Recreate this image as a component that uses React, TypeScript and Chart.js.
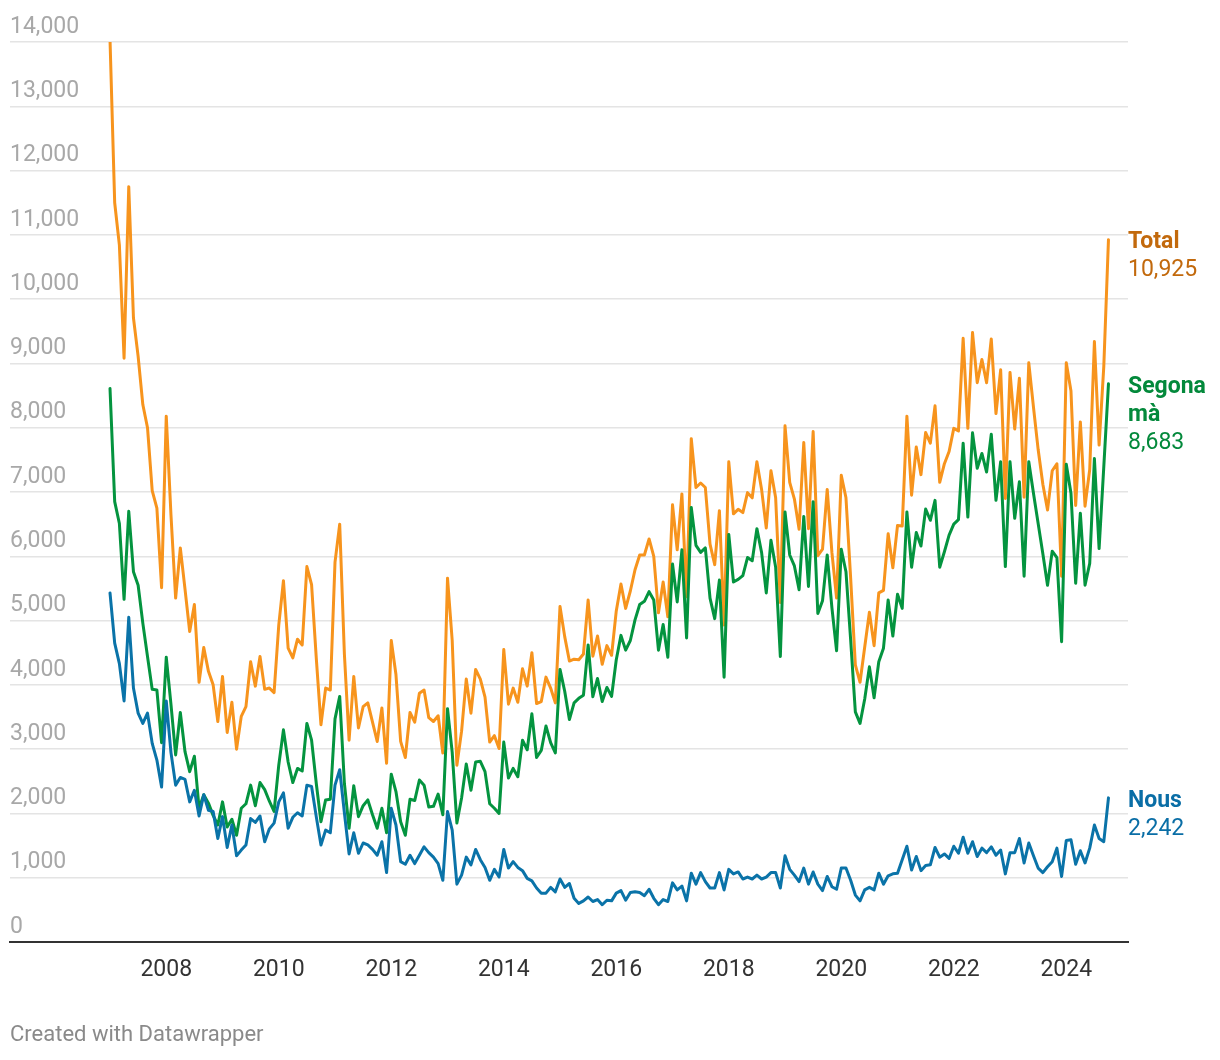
import React, { useEffect, useRef } from "react";
import { Chart, registerables } from "chart.js";

Chart.register(...registerables);

// Monthly series, January 2007 – October 2024
const startYear = 2007;

const nous: number[] = [
  5430, 4650, 4330, 3750, 5050, 3950, 3560, 3400, 3560, 3090, 2830, 2410,
  3750, 2950, 2440, 2560, 2530, 2180, 2360, 1960, 2290, 2050, 2030, 1610,
  1950, 1470, 1820, 1340, 1430, 1510, 1920, 1860, 1960, 1560, 1760, 1850,
  2180, 2320, 1770, 1940, 2010, 1960, 2440, 2420, 1950, 1510, 1740, 1700,
  2440, 2680, 2010, 1370, 1700, 1380, 1540, 1510, 1440, 1350, 1560, 1080,
  2080, 1820, 1250, 1210, 1350, 1220, 1350, 1480, 1390, 1320, 1220, 960,
  2030, 1740, 900, 1040, 1320, 1200, 1440, 1280, 1160, 960, 1130, 1010,
  1440, 1150, 1250, 1160, 1110, 990, 950, 840, 760, 760, 850, 780,
  980, 850, 910, 680, 600, 640, 700, 630, 660, 580, 650, 640,
  760, 800, 650, 770, 780, 770, 720, 820, 680, 580, 660, 630,
  920, 810, 870, 640, 1070, 900, 1080, 940, 840, 840, 1080, 810,
  1130, 1060, 1090, 980, 1010, 980, 1040, 980, 1010, 1080, 1080, 840,
  1340, 1130, 1040, 940, 1150, 900, 1090, 900, 800, 1020, 860, 820,
  1150, 1150, 960, 730, 640, 810, 850, 810, 1070, 900, 1030, 1060,
  1070, 1280, 1490, 1120, 1330, 1110, 1190, 1200, 1470, 1320, 1370, 1300,
  1490, 1380, 1630, 1380, 1560, 1330, 1460, 1390, 1480, 1350, 1430, 1060,
  1390, 1390, 1610, 1230, 1540, 1340, 1150, 1080, 1170, 1250, 1460, 1020,
  1580, 1590, 1210, 1420, 1230, 1460, 1820, 1610, 1560, 2242,
];

const segonaMa: number[] = [
  8610, 6850, 6510, 5330, 6700, 5760, 5550, 4960, 4440, 3930, 3920, 3100,
  4430, 3700, 2910, 3570, 2960, 2650, 2890, 2080, 2290, 2160, 1970, 1820,
  2180, 1790, 1910, 1660, 2080, 2150, 2440, 2120, 2480, 2370, 2190, 2030,
  2750, 3300, 2800, 2480, 2700, 2660, 3400, 3140, 2470, 1870, 2210, 2220,
  3470, 3820, 2470, 1770, 2430, 1950, 2120, 2210, 1980, 1770, 2080, 1700,
  2610, 2340, 1870, 1660, 2220, 2200, 2520, 2440, 2100, 2110, 2300, 1980,
  3630, 2950, 1850, 2240, 2770, 2360, 2800, 2810, 2650, 2150, 2080, 2000,
  3110, 2550, 2700, 2570, 3140, 2990, 3550, 2870, 2980, 3360, 3100, 2940,
  4240, 3900, 3460, 3720, 3790, 3840, 4620, 3815, 4100, 3740, 3960, 3820,
  4390, 4770, 4540, 4690, 5010, 5250, 5300, 5450, 5320, 4540, 4940, 4430,
  5880, 5290, 6100, 4730, 6760, 6170, 6060, 6130, 5350, 5030, 5630, 4120,
  6340, 5600, 5640, 5700, 5980, 5930, 6430, 6060, 5430, 6250, 5830, 4440,
  6690, 6020, 5850, 5480, 6620, 5530, 6850, 5110, 5310, 6020, 5200, 4530,
  6110, 5760, 4700, 3580, 3400, 3780, 4280, 3800, 4360, 4570, 5320, 4760,
  5410, 5190, 6690, 5830, 6370, 6160, 6735, 6560, 6870, 5830, 6070, 6330,
  6500, 6570, 7760, 6610, 7920, 7370, 7600, 7310, 7900, 6870, 7470, 5840,
  7470, 6590, 7160, 5690, 7470, 6980, 6510, 6040, 5550, 6080, 5980, 4670,
  7430, 6980, 5580, 6670, 5550, 5890, 7520, 6120, 7390, 8683,
];

const total: number[] = [
  14040, 11500, 10840, 9080, 11750, 9710, 9110, 8360, 8000, 7020, 6750, 5510,
  8180, 6650, 5350, 6130, 5490, 4830, 5250, 4040, 4580, 4210, 4000, 3430,
  4130, 3260, 3730, 3000, 3510, 3660, 4360, 3980, 4440, 3930, 3950, 3880,
  4930, 5620, 4570, 4420, 4710, 4620, 5840, 5560, 4420, 3380, 3950, 3920,
  5910, 6500, 4480, 3140, 4130, 3330, 3660, 3720, 3420, 3120, 3640, 2780,
  4690, 4160, 3120, 2870, 3570, 3420, 3870, 3920, 3490, 3430, 3520, 2940,
  5660, 4690, 2750, 3280, 4090, 3560, 4240, 4090, 3810, 3110, 3210, 3010,
  4550, 3700, 3950, 3730, 4250, 3980, 4500, 3710, 3740, 4120, 3950, 3720,
  5220, 4750, 4370, 4400, 4390, 4480, 5320, 4445, 4760, 4320, 4610, 4460,
  5150, 5570, 5190, 5460, 5790, 6020, 6020, 6270, 6000, 5120, 5600, 5060,
  6800, 6100, 6970, 5370, 7830, 7070, 7140, 7070, 6190, 5870, 6710, 4930,
  7470, 6660, 6730, 6680, 6990, 6910, 7470, 7040, 6440, 7330, 6910, 5280,
  8030, 7150, 6890, 6420, 7770, 6430, 7940, 6010, 6110, 7040, 6060, 5350,
  7260, 6910, 5660, 4310, 4040, 4590, 5130, 4610, 5430, 5470, 6350, 5820,
  6480, 6470, 8180, 6950, 7700, 7270, 7925, 7760, 8340, 7150, 7440, 7630,
  7990, 7950, 9390, 7990, 9480, 8700, 9060, 8700, 9380, 8220, 8900, 6900,
  8860, 7980, 8770, 6920, 9010, 8320, 7660, 7120, 6720, 7330, 7440, 5690,
  9010, 8570, 6790, 8090, 6780, 7350, 9340, 7730, 8950, 10925,
];

const xTickYears: number[] = [2008, 2010, 2012, 2014, 2016, 2018, 2020, 2022, 2024];
const yTickValues: number[] = [
  0, 1000, 2000, 3000, 4000, 5000, 6000, 7000, 8000, 9000, 10000, 11000, 12000, 13000, 14000,
];

const seriesLabels = ["Nous", "Segona mà", "Total"];
const endLabelLines: string[][] = [["Nous"], ["Segona", "mà"], ["Total"]];

const lineColors = ["#0a73a8", "#04943f", "#f7941d"];
const textColors = ["#0a6ea6", "#03893b", "#c2690c"];

const FONT = "Roboto";

export default function App() {
  const ref = useRef<HTMLCanvasElement | null>(null);

  useEffect(() => {
    document.body.style.margin = "0";
    document.body.style.overflow = "hidden";
    if (!ref.current) return;

    const toPoints = (arr: number[]) =>
      arr.map((v, i) => ({ x: startYear + i / 12, y: v }));

    const endLabels = {
      id: "endLabels",
      afterDatasetsDraw(chart: any) {
        const ctx = chart.ctx as CanvasRenderingContext2D;
        const x = chart.chartArea.right;
        chart.data.datasets.forEach((ds: any, di: number) => {
          const meta = chart.getDatasetMeta(di);
          const last = meta.data[meta.data.length - 1];
          const lastVal = ds.data[ds.data.length - 1].y as number;
          let y = last.y + 3;
          ctx.save();
          ctx.fillStyle = textColors[di];
          ctx.textAlign = "left";
          ctx.textBaseline = "middle";
          ctx.font = `bold 23px ${FONT}`;
          endLabelLines[di].forEach((line) => {
            ctx.fillText(line, x, y);
            y += 28;
          });
          ctx.font = `23px ${FONT}`;
          ctx.fillText(lastVal.toLocaleString("en-US"), x, y);
          ctx.restore();
        });
      },
    };

    const seriesData = [nous, segonaMa, total];

    const chart = new Chart(ref.current, {
      type: "line",
      data: {
        datasets: seriesData.map((arr, i) => ({
          label: seriesLabels[i],
          data: toPoints(arr),
          borderColor: lineColors[i],
          backgroundColor: lineColors[i],
          borderWidth: 3,
          pointRadius: 0,
          tension: 0,
          fill: false,
          borderJoinStyle: "round" as const,
          borderCapStyle: "round" as const,
        })),
      },
      options: {
        responsive: false,
        animation: false,
        layout: { padding: { left: 10, right: 92, top: 42, bottom: 0 } },
        plugins: {
          legend: { display: false },
          tooltip: { enabled: false },
        },
        scales: {
          x: {
            type: "linear",
            min: 2005.2222,
            max: 2025.0972,
            afterBuildTicks: (s: any) => {
              s.ticks = xTickYears.map((v) => ({ value: v }));
            },
            afterFit: (s: any) => {
              s.height = 118;
            },
            ticks: {
              color: "#333333",
              font: { family: FONT, size: 23 },
              padding: 14,
              autoSkip: false,
              maxRotation: 0,
              callback: (v: any) => String(v),
            },
            grid: { display: false, drawTicks: false },
            border: { display: true, color: "#333333", width: 2 },
          },
          y: {
            min: 0,
            max: 14000,
            afterBuildTicks: (s: any) => {
              s.ticks = yTickValues.map((v) => ({ value: v }));
            },
            afterFit: (s: any) => {
              s.width = 0;
            },
            ticks: {
              mirror: true,
              padding: 0,
              labelOffset: -15,
              color: "#a8a8a8",
              font: { family: FONT, size: 23 },
              callback: (v: any) => Number(v).toLocaleString("en-US"),
            },
            grid: {
              drawTicks: false,
              lineWidth: 1.5,
              color: (c: any) => (c.tick && c.tick.value === 0 ? "rgba(0,0,0,0)" : "#e4e4e4"),
            },
            border: { display: false },
          },
        },
      },
      plugins: [endLabels],
    });

    return () => chart.destroy();
  }, []);

  return (
    <div style={{ position: "relative", width: 1220, height: 1060, fontFamily: FONT }}>
      <canvas ref={ref} width={1220} height={1060} style={{ display: "block" }} />
      <div
        style={{
          position: "absolute",
          left: 10,
          top: 1021,
          fontSize: 22,
          color: "#8a8a8a",
          fontFamily: FONT,
          whiteSpace: "nowrap",
        }}
      >
        Created with Datawrapper
      </div>
    </div>
  );
}
